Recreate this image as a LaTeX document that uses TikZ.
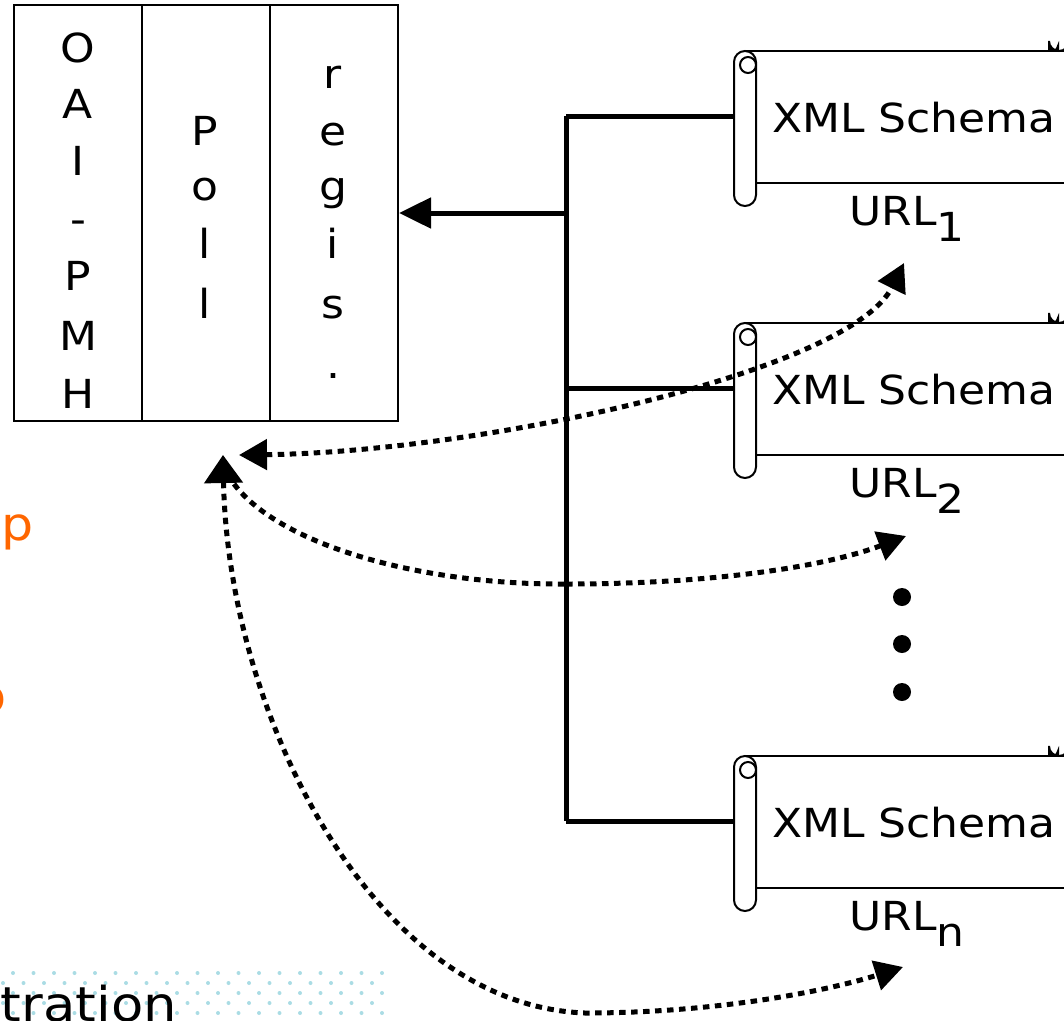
\documentclass[tikz,border=0pt]{standalone}
\usepackage{fontspec}
\setmainfont{DejaVu Sans}[FakeStretch=1.1]
\usetikzlibrary{arrows.meta}
\definecolor{orng}{RGB}{255,102,0}
\definecolor{dotc}{RGB}{170,220,228}
\begin{document}
\begin{tikzpicture}[x=1pt,y=-1pt,
  txt/.style={font=\fontsize{40}{48}\selectfont, inner sep=0pt, anchor=base},
  thin line/.style={line width=2pt},
  bus/.style={line width=5pt},
  dotline/.style={line width=5pt, dash pattern=on 6.5pt off 5.5pt, line cap=butt},
  tipd/.style={-{Triangle[length=28pt,width=30pt]}},
]
\useasboundingbox (0,0) rectangle (1064,1020);
% background dot pattern
\foreach \r in {0,1,2,3,4}{
  \pgfmathsetmacro{\yy}{973+10*\r}
  \pgfmathsetmacro{\xo}{mod(\r,2)==0 ? 13 : 3}
  \foreach \k in {0,...,18}{
    \fill[dotc] ({\xo+20.5*\k},\yy) circle (2);
  }
}
% left partial texts
\node[txt, anchor=base east, text=orng, font=\fontsize{46}{56}\selectfont] (t1) at (34,540) {mp};
\node[txt, anchor=base east, text=orng, font=\fontsize{46}{56}\selectfont] (t2) at (7,712) {p};
\node[txt, anchor=base east, font=\fontsize{48}{56}\selectfont] (t3) at (177,1021) {stration};
% main box
\node[draw, thin line, minimum width=384pt, minimum height=416pt, inner sep=0pt] (box) at (206,213) {};
\draw[thin line] (142,5) -- (142,421);
\draw[thin line] (270,5) -- (270,421);
\foreach \c/\yb in {O/62, A/118, I/175, -/233, P/290, M/350, H/408}{
  \node[txt] at (78,\yb) {\c};
}
\foreach \c/\yb in {P/145, o/200, l/258, l/318}{
  \node[txt] at (205,\yb) {\c};
}
\foreach \c/\yb in {r/88, e/145, g/200, i/258, s/318, ./378}{
  \node[txt] at (333,\yb) {\c};
}
% scrolls
\foreach \o/\sub/\nm in {0/1/a, 272/2/b, 705/n/c}{
  \begin{scope}[shift={(0,\o)}]
    \fill[white] (745,51) rectangle (1070,183);
    \draw[thin line, fill=white, rounded corners=11pt] (734,51) rectangle (756,206);
    \draw[thin line] (748,65) circle[radius=8];
    \draw[thin line] (745,51) -- (1070,51);
    \draw[thin line] (756,183) -- (1070,183);
    \draw[thin line] (1049,51) -- (1049,41) arc[start angle=180,end angle=0,radius=10];
    \draw[thin line] (1058,51) -- (1058,46) arc[start angle=0,end angle=180,radius=4.5];
    \node[txt] (x\nm) at (914,132) {XML Schema};
    \node[txt, anchor=base west] (u\nm) at (849,225) {URL\raisebox{-0.42em}{\sub}};
    \coordinate (s\nm) at (734,116);
  \end{scope}
}
% bus
\coordinate (ja) at (566,116);
\coordinate (jb) at (566,388);
\coordinate (jc) at (566,821);
\coordinate (jm) at (566,213);
\draw[bus] (ja) -- (jc);
\draw[bus] (ja) -- (sa);
\draw[bus] (jb) -- (sb);
\draw[bus] (jc) -- (sc);
\draw[bus, -{Triangle[length=32pt,width=30pt]}] (jm) -- (box.east);
% dots
\foreach \yy in {597,644,692}{ \fill (902,\yy) circle (9); }
% dotted curves
\coordinate (l1) at (239,455);
\coordinate (r1) at (904,263);
\coordinate (l2) at (223,455);
\coordinate (a2) at (234,484);
\coordinate (m2) at (566,584);
\coordinate (r2) at (906,536);
\coordinate (mn) at (585,1013);
\coordinate (rn) at (903,967);
\draw[dotline, {Triangle[length=28pt,width=30pt]}-{Triangle[length=28pt,width=30pt]}]
  (l1) .. controls (480,452) and (850,372) .. (r1);
\draw[dotline] (a2) .. controls (280,545) and (420,585) .. (m2);
\draw[dotline, tipd] (m2) .. controls (720,584) and (830,565) .. (r2);
\draw[dotline, {Triangle[length=28pt,width=38pt]}-{Triangle[length=28pt,width=30pt]}]
  (l2) .. controls (228,710) and (370,1005) .. (mn) .. controls (720,1013) and (830,990) .. (rn);
\end{tikzpicture}
\end{document}
